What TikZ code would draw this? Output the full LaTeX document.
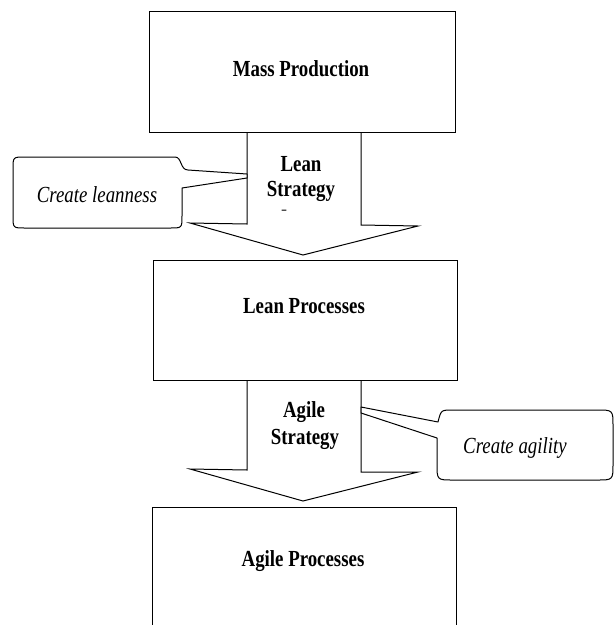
\documentclass[tikz,border=0pt]{standalone}
\usepackage{fontspec}
\usepackage{graphicx}
\setmainfont{Liberation Serif}
\usetikzlibrary{calc}
\newcommand{\sqz}[1]{\scalebox{0.82}[1]{#1}}
\tikzset{
  box/.style={draw, line width=1pt, fill=white, inner sep=0pt, anchor=north west},
  lbl/.style={font=\fontsize{23}{26}\selectfont\bfseries, anchor=base, inner sep=0pt},
  note/.style={font=\fontsize{23}{26}\selectfont\itshape, anchor=base, inner sep=0pt},
  blockarrow/.style={draw, line width=1pt, fill=white, line join=miter},
  callout/.style={draw, line width=1pt, fill=white, line join=round},
}
\begin{document}
\begin{tikzpicture}[x=1pt,y=-1pt]
\useasboundingbox (0,0) rectangle (614,625);
\clip (0,0) rectangle (614,625);

% block arrows (drawn first so boxes lie on top)
\coordinate (a1l) at (247,132);
\coordinate (a1r) at (361,132);
\coordinate (a1tip) at (303,255);
\filldraw[blockarrow] (a1l) -- (247,224) -- (190,223) -- (a1tip) -- (418,226) -- (361,225) -- (a1r);

\coordinate (a2l) at (247,380);
\coordinate (a2r) at (361,380);
\coordinate (a2tip) at (303,501);
\filldraw[blockarrow] (a2l) -- (247,470) -- (190,469) -- (a2tip) -- (418,472) -- (361,472) -- (a2r);

% boxes
\node[box, minimum width=306pt, minimum height=121pt] (mass) at (149,11) {};
\node[box, minimum width=304pt, minimum height=120pt] (lean) at (153,260) {};
\node[box, minimum width=304pt, minimum height=140pt] (agile) at (152,507) {};

% box texts
\node[lbl] (tmass) at (301,76) {\sqz{Mass Production}};
\node[lbl] (tlean) at (304,313) {\sqz{Lean Processes}};
\node[lbl] (tagile) at (303,566) {\sqz{Agile Processes}};

% arrow texts
\node[lbl] (ls1) at (301,171) {\sqz{Lean}};
\node[lbl] (ls2) at (301,196) {\sqz{Strategy}};
\node[lbl, font=\fontsize{12}{13}\selectfont\bfseries] (ls3) at (284,213) {\scalebox{1.5}[1]{-}};
\node[lbl] (as1) at (304,417) {\sqz{Agile}};
\node[lbl] (as2) at (305,444) {\sqz{Strategy}};

% callout: create leanness
\filldraw[callout] (247,178) -- (182,188) -- (182,216) .. controls (182,228) .. (170,228)
  -- (25,228) .. controls (13,228) .. (13,216) -- (13,169) .. controls (13,157) .. (25,157)
  -- (175,157) .. controls (182,157) and (180,170) .. (188,170) -- (247,174) -- cycle;
\node[note] (cl) at (97,202) {\sqz{Create leanness}};

% callout: create agility
\filldraw[callout] (361,407) -- (438,422) .. controls (441,410) .. (453,410) -- (597,410)
  .. controls (613,410) .. (613,426) -- (613,464) .. controls (613,480) .. (597,480)
  -- (453,480) .. controls (437,480) .. (437,464) -- (437,438) -- (361,413) -- cycle;
\node[note] (ca) at (515,453) {\sqz{Create agility}};
\end{tikzpicture}
\end{document}
